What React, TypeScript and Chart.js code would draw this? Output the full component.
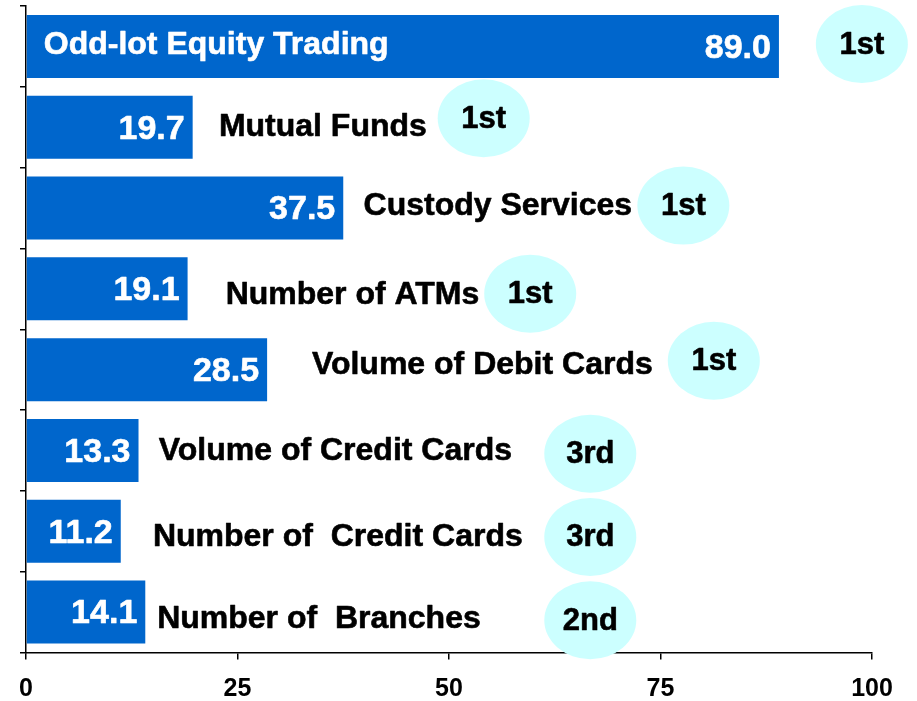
import React, { useEffect, useRef } from "react";
import { Chart, registerables } from "chart.js";

Chart.register(...registerables);

// ---- data ----
const categories = [
  "Odd-lot Equity Trading",
  "Mutual Funds",
  "Custody Services",
  "Number of ATMs",
  "Volume of Debit Cards",
  "Volume of Credit Cards",
  "Number of  Credit Cards",
  "Number of  Branches",
];
const values = [89.0, 19.7, 37.5, 19.1, 28.5, 13.3, 11.2, 14.1];
const ranks = ["1st", "1st", "1st", "1st", "1st", "3rd", "3rd", "2nd"];
// rank badge centre (x in axis units, y offset as fraction of a category row)
const rankX = [98.8, 54.1, 77.7, 59.6, 81.3, 66.7, 66.7, 66.7];
const rankDy = [-0.03, -0.11, -0.03, 0.06, -0.11, 0.04, 0.07, 0.1];
// category label start (x in axis units, y offset as fraction of a category row)
const labelX = [2.1, 22.8, 39.9, 23.6, 33.8, 15.7, 15.0, 15.5];
const labelDy = [-0.03, -0.01, -0.03, 0.07, -0.07, 0.0, 0.06, 0.07];
const xTicks = [0, 25, 50, 75, 100];

const FONT = "'Liberation Sans', Arial, sans-serif";

function boldText(ctx: CanvasRenderingContext2D, text: string, x: number, y: number, color: string) {
  ctx.fillStyle = color;
  ctx.strokeStyle = color;
  ctx.lineWidth = 0.6;
  ctx.lineJoin = "round";
  ctx.fillText(text, x, y);
  ctx.strokeText(text, x, y);
}

export default function App() {
  const ref = useRef<HTMLCanvasElement>(null);

  useEffect(() => {
    if (!ref.current) return;

    const labelsPlugin = {
      id: "barLabels",
      afterDatasetsDraw(chart: any) {
        const ctx = chart.ctx;
        const xs = chart.scales.x;
        const ys = chart.scales.y;
        const step = ys.getPixelForValue(1) - ys.getPixelForValue(0);
        const meta = chart.getDatasetMeta(0);
        ctx.save();
        ctx.textBaseline = "middle";
        meta.data.forEach((bar: any, i: number) => {
          const p = bar.getProps(["x", "y"], true);
          ctx.font = `bold 34px ${FONT}`;
          ctx.textAlign = "right";
          boldText(ctx, values[i].toFixed(1), p.x - 8, p.y + 2, "#ffffff");
          ctx.font = `bold 32px ${FONT}`;
          ctx.textAlign = "left";
          boldText(
            ctx,
            categories[i],
            xs.getPixelForValue(labelX[i]),
            p.y + 1 + labelDy[i] * step,
            i === 0 ? "#ffffff" : "#000000"
          );
        });
        ctx.restore();
      },
    };

    const badgePlugin = {
      id: "rankBadges",
      afterDraw(chart: any) {
        const ctx = chart.ctx;
        const xs = chart.scales.x;
        const ys = chart.scales.y;
        const step = ys.getPixelForValue(1) - ys.getPixelForValue(0);
        ctx.save();
        ranks.forEach((r, i) => {
          const cx = xs.getPixelForValue(rankX[i]);
          const cy = ys.getPixelForValue(i) + rankDy[i] * step;
          ctx.beginPath();
          ctx.ellipse(cx, cy, 46, 39, 0, 0, Math.PI * 2);
          ctx.fillStyle = "#CCFFFF";
          ctx.fill();
          ctx.font = `bold 31px ${FONT}`;
          ctx.textAlign = "center";
          ctx.textBaseline = "middle";
          boldText(ctx, r, cx, cy + 1, "#000000");
        });
        ctx.restore();
      },
    };

    const chart = new Chart(ref.current, {
      type: "bar",
      data: {
        labels: categories,
        datasets: [
          {
            data: values,
            backgroundColor: "#0066CC",
            borderWidth: 0,
            barPercentage: 0.78,
            categoryPercentage: 1,
          },
        ],
      },
      options: {
        indexAxis: "y",
        animation: false,
        responsive: false,
        devicePixelRatio: 1,
        layout: { padding: { top: 6, left: 20, right: 45, bottom: 0 } },
        plugins: { legend: { display: false }, tooltip: { enabled: false } },
        scales: {
          x: {
            type: "linear",
            min: 0,
            max: 100,
            afterBuildTicks: (axis: any) => {
              axis.ticks = xTicks.map((v) => ({ value: v }));
            },
            afterFit: (axis: any) => {
              axis.height = 48.5;
            },
            ticks: {
              color: "#000",
              font: { family: FONT, size: 25, weight: "bold" },
              padding: 15,
              maxRotation: 0,
            },
            grid: {
              drawOnChartArea: false,
              drawTicks: true,
              tickLength: 7,
              color: "#000",
              lineWidth: 1.5,
            },
            border: { color: "#000", width: 1.5 },
          },
          y: {
            ticks: { display: false },
            grid: {
              drawOnChartArea: false,
              drawTicks: true,
              tickLength: 6,
              color: "#000",
              lineWidth: 1.5,
              offset: true,
            },
            border: { color: "#000", width: 1.5 },
          },
        },
      },
      plugins: [labelsPlugin, badgePlugin],
    } as any);

    return () => chart.destroy();
  }, []);

  return (
    <div style={{ position: "absolute", left: 0, top: 0, width: 917, height: 701, background: "#fff" }}>
      <canvas ref={ref} width={917} height={701} style={{ display: "block" }} />
    </div>
  );
}
